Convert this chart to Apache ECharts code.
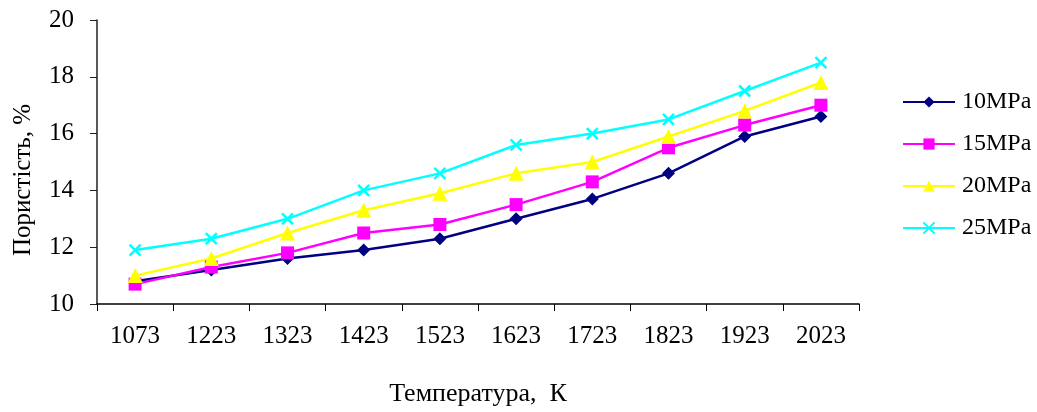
<!DOCTYPE html>
<html>
<head>
<meta charset="utf-8">
<script src="https://cdn.jsdelivr.net/npm/echarts@6/dist/echarts.min.js"></script>
<style>
  html, body { margin: 0; padding: 0; background: #fff; }
  #chart { width: 1037px; height: 412px; }
</style>
</head>
<body>
<div id="chart"></div>
<script>
// Temperature categories, K
const temperatures = ['1073', '1223', '1323', '1423', '1523', '1623', '1723', '1823', '1923', '2023'];

// Porosity (%) at each pressing pressure
const p10 = [10.8, 11.2, 11.6, 11.9, 12.3, 13.0, 13.7, 14.6, 15.9, 16.6];
const p15 = [10.7, 11.3, 11.8, 12.5, 12.8, 13.5, 14.3, 15.5, 16.3, 17.0];
const p20 = [11.0, 11.6, 12.5, 13.3, 13.9, 14.6, 15.0, 15.9, 16.8, 17.8];
const p25 = [11.9, 12.3, 13.0, 14.0, 14.6, 15.6, 16.0, 16.5, 17.5, 18.5];

const seriesNames = ['10MPa', '15MPa', '20MPa', '25MPa'];
const yTicks = { min: 10, max: 20, step: 2 };

const font = '"Liberation Serif", "Times New Roman", serif';
const crossPath = 'path://M0,0 L10,10 M10,0 L0,10';

function lineSeries(name, data, color, symbol, size, extra) {
  return Object.assign({
    name: name,
    type: 'line',
    data: data,
    symbol: symbol,
    symbolSize: size,
    showSymbol: true,
    lineStyle: { color: color, width: 2.5 },
    itemStyle: { color: color },
    emphasis: { disabled: true }
  }, extra || {});
}

const chart = echarts.init(document.getElementById('chart'), null, { renderer: 'canvas' });
chart.setOption({
  animation: false,
  backgroundColor: '#ffffff',
  grid: { left: 97, right: 178, top: 20, bottom: 107, containLabel: false },
  legend: {
    orient: 'vertical',
    left: 897,
    top: 85,
    itemWidth: 52,
    itemHeight: 14,
    itemGap: 18,
    textStyle: { fontFamily: font, fontSize: 24, color: '#000', padding: [0, 0, 0, 2] },
    data: seriesNames
  },
  xAxis: {
    type: 'category',
    data: temperatures,
    boundaryGap: true,
    name: 'Температура,  К',
    nameLocation: 'middle',
    nameGap: 77,
    nameTextStyle: { fontFamily: font, fontSize: 26, color: '#000' },
    axisLine: { lineStyle: { color: '#000', width: 1.5 } },
    axisTick: { show: true, inside: false, length: 7, alignWithLabel: false, lineStyle: { color: '#000' } },
    axisLabel: { fontFamily: font, fontSize: 25, color: '#000', margin: 20 },
    splitLine: { show: false }
  },
  yAxis: {
    type: 'value',
    min: yTicks.min,
    max: yTicks.max,
    interval: yTicks.step,
    name: 'Пористість, %',
    nameLocation: 'middle',
    nameGap: 61,
    nameRotate: 90,
    nameTextStyle: { fontFamily: font, fontSize: 25, color: '#000', padding: [0, 36, 0, 0] },
    axisLine: { show: true, lineStyle: { color: '#222', width: 1.5 } },
    axisTick: { show: true, inside: false, length: 7, lineStyle: { color: '#222' } },
    axisLabel: { fontFamily: font, fontSize: 25, color: '#000', margin: 23 },
    splitLine: { show: false }
  },
  series: [
    lineSeries(seriesNames[0], p10, '#000080', 'diamond', 13),
    lineSeries(seriesNames[1], p15, '#FF00FF', 'rect', 13),
    lineSeries(seriesNames[2], p20, '#FFFF00', 'triangle', 15),
    lineSeries(seriesNames[3], p25, '#00FFFF', crossPath, 11, {
      itemStyle: { color: '#00FFFF', borderColor: '#00FFFF', borderWidth: 2.5 }
    })
  ]
});
</script>
</body>
</html>
